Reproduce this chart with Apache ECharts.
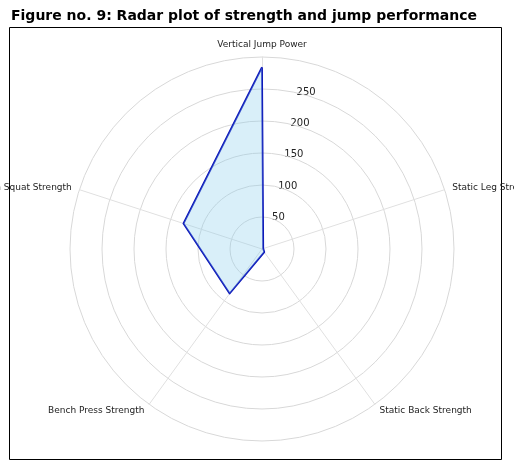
<!DOCTYPE html><html><head><meta charset="utf-8"><script src="https://cdn.jsdelivr.net/npm/echarts@6/dist/echarts.min.js"></script>
<style>html,body{margin:0;padding:0;background:#fff}#c{width:514px;height:471px}</style></head><body><div id="c"></div><script>
// listed counterclockwise from top (ECharts radar order), so the picture reads clockwise:
const indicators = ['Vertical Jump Power','Bench Squat Strength','Bench Press Strength','Static Back Strength','Static Leg Strength'];
const values = [284, 129, 86, 6, 2];
const ringLabels = [50,100,150,200,250];
const maxValue = 300;
const chart = echarts.init(document.getElementById('c'));
const R = 192, CX = 262, CY = 249;
const border = {type:'rect',shape:{x:9.5,y:27.5,width:492,height:432},style:{fill:'none',stroke:'#000',lineWidth:1}};
chart.setOption({
  animation:false,
  title:{text:'Figure no. 9: Radar plot of strength and jump performance',left:6,top:4,textStyle:{fontFamily:'DejaVu Sans',fontSize:14,fontWeight:'bold',color:'#000'}},
  graphic:[border].concat(ringLabels.map(v=>{
    const ang=79*Math.PI/180, r=v/maxValue*R;
    return {type:'text',x:CX+r*Math.cos(ang)+4,y:CY-r*Math.sin(ang),style:{text:String(v),fontSize:10,fontFamily:'DejaVu Sans',fill:'#222',textVerticalAlign:'middle'}};
  })),
  radar:{
    center:[CX,CY],radius:R,shape:'circle',splitNumber:6,startAngle:90,
    indicator:indicators.map(n=>({name:n,min:0,max:maxValue})),
    axisName:{color:'#222',fontSize:9,fontFamily:'DejaVu Sans'},nameGap:8,
    splitLine:{lineStyle:{color:'#d8d8d8',width:1}},
    splitArea:{show:false},
    axisLine:{lineStyle:{color:'#e0e0e0'}},
    axisTick:{show:false},
    axisLabel:{show:false}
  },
  series:[{type:'radar',symbol:'none',data:[{value:values,lineStyle:{color:'#0a12b8',width:1.8},areaStyle:{color:'rgba(135,206,235,0.45)'}}]}]
});
</script></body></html>
